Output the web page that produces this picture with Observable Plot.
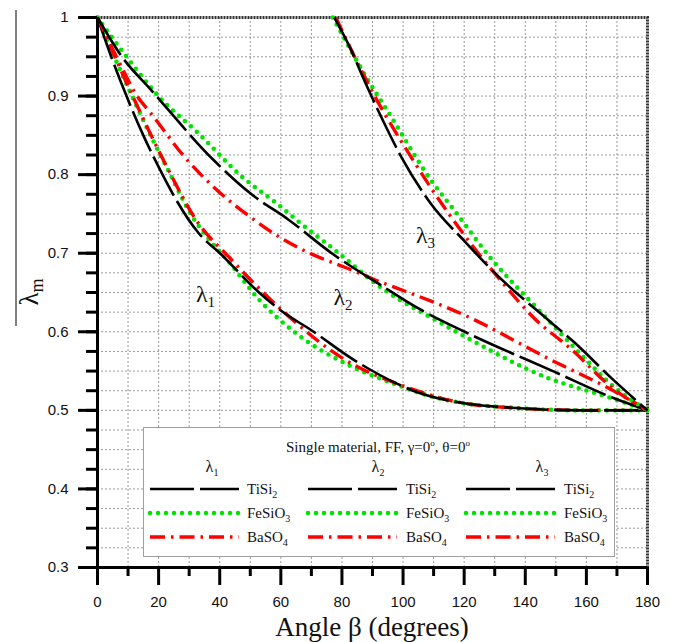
<!DOCTYPE html>
<html><head><meta charset="utf-8">
<script src="https://cdn.jsdelivr.net/npm/d3@7"></script>
<script src="https://cdn.jsdelivr.net/npm/@observablehq/plot@0.6"></script>
<style>body{margin:0;background:#fff} svg{display:block}</style>
</head><body><div id="chart"></div>
<script>
// Angle beta (degrees) and eigenvalue lambda_m
const l1_TiSi2_b = [0,4.5,9.5,15,20.5,25,33,40.6,52.6,60,70,84,98,104,120,137,158,180];
const l1_TiSi2_v = [1,0.95,0.9,0.85,0.806,0.773,0.726,0.698,0.651,0.627,0.602,0.564,0.534,0.524,0.509,0.503,0.5,0.5];
const l1_FeSiO3_b = [0,5.5,11.3,17.5,24,30.8,36,42.8,52.6,65.7,82,98.4,104,120,137,158,180];
const l1_FeSiO3_v = [1,0.95,0.9,0.849,0.799,0.748,0.72,0.690,0.642,0.596,0.558,0.532,0.524,0.509,0.503,0.5,0.5];
const l1_BaSO4_b = [0,5.7,11.5,17.7,24,31.8,43.8,60.2,82,98,120,137,160,180];
const l1_BaSO4_v = [1,0.95,0.9,0.849,0.80,0.745,0.692,0.628,0.562,0.534,0.509,0.503,0.5,0.5];

const l2_TiSi2_b = [0,8,17.7,38.4,50.4,62.4,77,92.9,104.9,120.2,149.6,169.3,180];
const l2_TiSi2_v = [1,0.95,0.907,0.817,0.775,0.743,0.699,0.659,0.630,0.600,0.549,0.515,0.5];
const l2_FeSiO3_b = [0,9.5,19.9,32.9,47.1,59.1,66.8,77.7,92.9,111.5,120.2,147.5,167.1,180];
const l2_FeSiO3_v = [1,0.95,0.9,0.853,0.798,0.762,0.737,0.704,0.656,0.613,0.594,0.541,0.517,0.5];
const l2_BaSO4_b = [0,6.2,13,17.7,28.6,39.5,50.4,60.2,66.8,84.2,92.9,98.4,120.2,147.5,169.3,180];
const l2_BaSO4_v = [1,0.95,0.9,0.877,0.822,0.779,0.745,0.719,0.705,0.677,0.663,0.655,0.621,0.566,0.524,0.5];

const l3_TiSi2_b = [77.5,83.1,86.4,92.9,99.5,109.3,120.2,130,147.5,156.2,168.2,180];
const l3_TiSi2_v = [1,0.958,0.928,0.873,0.822,0.762,0.715,0.675,0.615,0.586,0.541,0.5];
const l3_FeSiO3_b = [77,88.6,96.2,109.3,116.9,127.8,145.3,158,169,180];
const l3_FeSiO3_v = [1,0.920,0.873,0.792,0.754,0.698,0.624,0.572,0.530,0.5];
const l3_BaSO4_b = [78,90,102.7,115,132.2,143,155,169.3,180];
const l3_BaSO4_v = [1,0.905,0.822,0.75,0.664,0.617,0.578,0.526,0.5];

const xMajor = [0,20,40,60,80,100,120,140,160,180];
const xMinor = [10,30,50,70,90,110,130,150,170];
const xGrid = [10,20,30,40,50,60,70,80,90,100,110,120,130,140,150,160,170];
const yMajor = [0.3,0.4,0.5,0.6,0.7,0.8,0.9,1];
const yMinor = d3.range(0,28).map(i => +(0.3 + i*0.025).toFixed(3));
const yGrid = yMinor.filter(v => v > 0.3);

const materials = ["TiSi2","FeSiO3","BaSO4"];
const styles = {
  TiSi2: {stroke:"#000", strokeWidth:2.6, strokeDasharray:"44,6", strokeLinecap:"butt"},
  FeSiO3: {stroke:"#00e400", strokeWidth:4.6, strokeDasharray:"0,8", strokeLinecap:"round"},
  BaSO4: {stroke:"#ff0000", strokeWidth:3.4, strokeDasharray:"15,6,2.5,6", strokeLinecap:"butt"}
};
const series = [
  ["λ1","FeSiO3",l1_FeSiO3_b,l1_FeSiO3_v],["λ1","BaSO4",l1_BaSO4_b,l1_BaSO4_v],["λ1","TiSi2",l1_TiSi2_b,l1_TiSi2_v],
  ["λ2","FeSiO3",l2_FeSiO3_b,l2_FeSiO3_v],["λ2","BaSO4",l2_BaSO4_b,l2_BaSO4_v],["λ2","TiSi2",l2_TiSi2_b,l2_TiSi2_v],
  ["λ3","FeSiO3",l3_FeSiO3_b,l3_FeSiO3_v],["λ3","BaSO4",l3_BaSO4_b,l3_BaSO4_v],["λ3","TiSi2",l3_TiSi2_b,l3_TiSi2_v]
];
// curve annotation anchor points (beta, lambda)
const curveLabels = [{n:"1", b:35.5, v:0.637},{n:"2", b:80.5, v:0.633},{n:"3", b:107.5, v:0.712}];

const lineMarks = series.map(([fam, mat, bs, vs]) =>
  Plot.line(bs.map((b,i)=>({b, v:vs[i]})), {x:"b", y:"v", curve:"monotone-x", ...styles[mat]}));

const plot = Plot.plot({
  width: 675, height: 642,
  marginLeft: 97, marginRight: 28, marginTop: 17, marginBottom: 75,
  x: {domain:[0,180]},
  y: {domain:[0.3,1]},
  style: {fontFamily:"'Liberation Sans', Arial, sans-serif", fontSize:"15px", background:"#fff", color:"#000", overflow:"visible"},
  marks: [
    Plot.gridX(xGrid, {stroke:"#9a9a9a", strokeOpacity:1, strokeWidth:1, strokeDasharray:"2,2"}),
    Plot.gridY(yGrid, {stroke:"#9a9a9a", strokeOpacity:1, strokeWidth:1, strokeDasharray:"2,2"}),
    Plot.frame({stroke:"#333", strokeWidth:3, strokeDasharray:"2,1"}),
    ...lineMarks,
    Plot.axisY(yMinor, {tickSize:11, tickFormat:()=>"", strokeWidth:3, label:null}),
    Plot.axisY(yMajor, {tickSize:19, tickPadding:10, strokeWidth:3, label:null, fill:"#111",
      tickFormat: d => d === 1 ? "1" : d.toFixed(1)}),
    Plot.axisX(xMinor, {tickSize:9, tickFormat:()=>"", strokeWidth:3, label:null}),
    Plot.axisX(xMajor, {tickSize:18, tickPadding:11, strokeWidth:3, label:null, fill:"#111"}),
    Plot.ruleX([0], {strokeWidth:3}),
    Plot.ruleY([0.3], {strokeWidth:3})
  ]
});
document.getElementById("chart").appendChild(plot);

const sx = plot.scale("x"), sy = plot.scale("y");
const svg = d3.select(plot);
const serif = "'Liberation Serif', 'Times New Roman', serif";

// curve labels
curveLabels.forEach(l => {
  const t = svg.append("text").attr("x", sx.apply(l.b)).attr("y", sy.apply(l.v)).attr("text-anchor","middle")
    .attr("font-family", serif).attr("font-size", 24).attr("fill", "#111");
  t.append("tspan").text("λ");
  t.append("tspan").attr("font-size", 15).attr("dy", 5).text(l.n);
});

// y axis title
svg.append("line").attr("x1",16).attr("x2",16).attr("y1",10).attr("y2",326).attr("stroke","#000").attr("stroke-width",1);
const yt = svg.append("text").attr("transform","translate(38,292) rotate(-90)").attr("text-anchor","middle")
  .attr("font-family", serif).attr("font-size", 27).attr("fill","#111");
yt.append("tspan").text("λ");
yt.append("tspan").attr("font-size",18).attr("dy",5).text("m");

// x axis title
svg.append("text").attr("x", (sx.apply(0)+sx.apply(180))/2).attr("y", 636)
  .attr("text-anchor","middle").attr("font-family", serif).attr("font-size", 27).attr("fill","#111")
  .text("Angle β (degrees)");

// legend
const lg = svg.append("g");
lg.append("rect").attr("x",143.5).attr("y",427.5).attr("width",471).attr("height",129)
  .attr("fill","#fff").attr("stroke","#a0a0a0").attr("stroke-width",1);
const title = lg.append("text").attr("x",378).attr("y",452).attr("text-anchor","middle")
  .attr("font-family", serif).attr("font-size", 15).attr("fill","#111");
title.append("tspan").text("Single material, FF, γ=0");
title.append("tspan").attr("font-size",9).attr("dy",-6).text("o");
title.append("tspan").attr("dy",6).text(", θ=0");
title.append("tspan").attr("font-size",9).attr("dy",-6).text("o");

const colLine = [150, 308, 466], colText = [247, 406, 564], colHead = [212, 378, 542];
const rowY = [489, 513, 537];
const subs = {TiSi2:["TiSi","2"], FeSiO3:["FeSiO","3"], BaSO4:["BaSO","4"]};
colLine.forEach((x0, c) => {
  const h = lg.append("text").attr("x", colHead[c]).attr("y", 472).attr("text-anchor","middle")
    .attr("font-family", serif).attr("font-size", 16).attr("fill","#111");
  h.append("tspan").text("λ");
  h.append("tspan").attr("font-size",10).attr("dy",4).text(String(c+1));
  materials.forEach((m, r) => {
    const s = styles[m];
    lg.append("line").attr("x1", x0).attr("x2", x0+89).attr("y1", rowY[r]).attr("y2", rowY[r])
      .attr("stroke", s.stroke).attr("stroke-width", s.strokeWidth)
      .attr("stroke-dasharray", s.strokeDasharray).attr("stroke-linecap", s.strokeLinecap);
    const t = lg.append("text").attr("x", colText[c]).attr("y", rowY[r]+5).attr("text-anchor","start")
      .attr("font-family", serif).attr("font-size", 15).attr("fill","#111");
    t.append("tspan").text(subs[m][0]);
    t.append("tspan").attr("font-size",10).attr("dy",4).text(subs[m][1]);
  });
});
</script>
</body></html>
